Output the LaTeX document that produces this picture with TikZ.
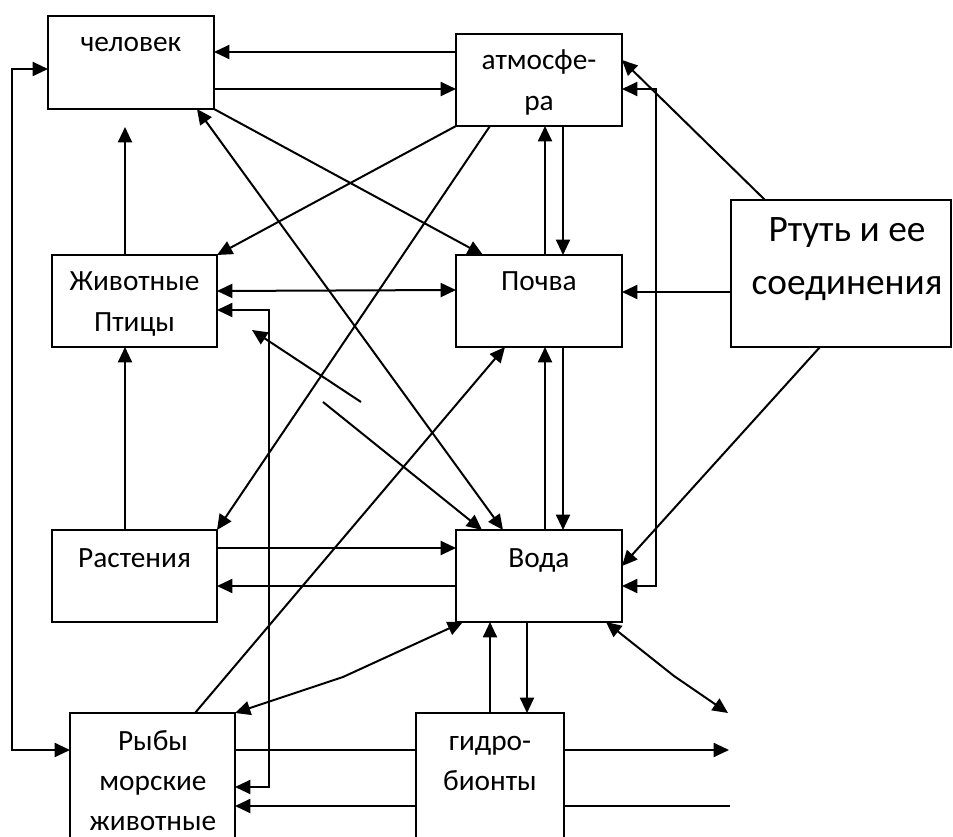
\documentclass[tikz,border=0pt]{standalone}
\usepackage{fontspec}
\setmainfont{Carlito}
\usetikzlibrary{arrows.meta,calc}
\begin{document}
\begin{tikzpicture}[x=0.75pt,y=-0.75pt,
  box/.style={draw,line width=1.15pt,inner sep=0pt,outer sep=0pt,rectangle},
  txt/.style={anchor=base,inner sep=0pt,font=\fontsize{22}{30}\selectfont},
  bigtxt/.style={anchor=base,inner sep=0pt,font=\fontsize{28}{39}\selectfont},
  conn/.style={line width=1.5pt},
  arr/.style={conn,-{Triangle[length=11.5pt,width=10.5pt]}},
  arrb/.style={conn,{Triangle[length=11.5pt,width=10.5pt]}-{Triangle[length=11.5pt,width=10.5pt]}}]
\useasboundingbox (0,0) rectangle (953,837);
\clip (0,0) rectangle (953,837);
\fill[white] (0,0) rectangle (953,837);

% boxes
\node[box,minimum width=124.5pt,minimum height=69.75pt] (chel) at (131,62.5) {};
\node[box,minimum width=124.5pt,minimum height=69pt] (atm) at (539,80) {};
\node[box,minimum width=123.75pt,minimum height=69pt] (zhiv) at (134.5,301) {};
\node[box,minimum width=124.5pt,minimum height=69pt] (poch) at (539,301) {};
\node[box,minimum width=165pt,minimum height=110.25pt] (rtut) at (841,273.5) {};
\node[box,minimum width=123.75pt,minimum height=69pt] (rast) at (134.5,576) {};
\node[box,minimum width=124.5pt,minimum height=69pt] (voda) at (539,576) {};
\node[box,minimum width=123.75pt,minimum height=127.5pt] (ryby) at (152.5,798) {};
\node[box,minimum width=111pt,minimum height=127.5pt] (gidro) at (490,798) {};

% texts
\node[txt] (tchel) at (131,52) {человек};
\node[txt] (tatm1) at (539,70) {атмосфе-};
\node[txt] (tatm2) at (539,111) {ра};
\node[txt] (tzhiv1) at (134.5,291) {Животные};
\node[txt] (tzhiv2) at (134.5,332) {Птицы};
\node[txt] (tpoch) at (539,291) {Почва};
\node[bigtxt] (trtut1) at (847,242) {Ртуть и ее};
\node[bigtxt] (trtut2) at (847,295) {соединения};
\node[txt] (trast) at (134.5,567) {Растения};
\node[txt] (tvoda) at (539,567) {Вода};
\node[txt] (tryby1) at (153,750) {Рыбы};
\node[txt] (tryby2) at (153,790) {морские};
\node[txt] (tryby3) at (153,830) {животные};
\node[txt] (tgidro1) at (490,750) {гидро-};
\node[txt] (tgidro2) at (490,790) {бионты};

% free coordinates
\coordinate (b1) at (361,402);
\coordinate (b2) at (252,330);
\coordinate (b3) at (323,402);
\coordinate (e1) at (728,713);
\coordinate (e2) at (729,750);
\coordinate (e3) at (730,806);

% connectors
\draw[arr] (atm.west |- 0,52) -- (chel.east |- 0,52);
\draw[arr] (chel.east |- 0,89) -- (atm.west |- 0,89);
\draw[arrb] (chel.west |- 0,69) -- (12,69) -- (12,750) -- (ryby.west |- 0,750);
\draw[arr] (zhiv.north -| 125,0) -- ($(chel.south -| 125,0)+(0,18)$);
\draw[arr] (chel.south east) -- (poch.north -| 483,0);
\draw[arrb] (chel.south -| 197,0) -- (voda.north -| 503,0);
\draw[arr] (atm.south west) -- (zhiv.north east);
\draw[arr] (atm.south -| 490,0) -- (rast.north east);
\draw[arr] (poch.north -| 545,0) -- (atm.south -| 545,0);
\draw[arr] (atm.south -| 563,0) -- (poch.north -| 563,0);
\draw[arr] (rtut.north -| 765,0) -- (atm.east |- 0,60);
\draw[arrb] (atm.east |- 0,89) -- (656,89) -- (656,586) -- (voda.east |- 0,586);
\draw[arr] (rtut.west |- 0,292) -- (poch.east |- 0,292);
\draw[arr] (rtut.south -| 820,0) -- (voda.east |- 0,566);
\draw[arrb] (zhiv.east |- 0,291) -- (poch.west |- 0,290);
\draw[arrb] (zhiv.east |- 0,310) -- (269,310) -- (269,787) -- (ryby.east |- 0,787);
\draw[arr] (b1) -- (b2);
\draw[arr] (b3) -- (voda.north -| 482,0);
\draw[arr] (ryby.north -| 195,0) -- (poch.south -| 505,0);
\draw[arr] (voda.north -| 545,0) -- (poch.south -| 545,0);
\draw[arr] (poch.south -| 563,0) -- (voda.north -| 563,0);
\draw[arr] (rast.north -| 125,0) -- (zhiv.south -| 125,0);
\draw[arr] (rast.east |- 0,548) -- (voda.west |- 0,548);
\draw[arr] (voda.west |- 0,586) -- (rast.east |- 0,586);
\draw[arrb] (voda.south -| 463,0) -- (343,677) -- (ryby.north east);
\draw[arr] (gidro.north -| 490,0) -- (voda.south -| 490,0);
\draw[arr] (voda.south -| 527,0) -- (gidro.north -| 527,0);
\draw[arrb] (voda.south -| 606,0) -- (674,676) -- (e1);
\draw[conn] (ryby.east |- 0,750) -- (gidro.west |- 0,750);
\draw[arr] (gidro.east |- 0,750) -- (e2);
\draw[conn] (e3) -- (gidro.east |- 0,806);
\draw[arr] (gidro.west |- 0,806) -- (ryby.east |- 0,806);
\end{tikzpicture}
\end{document}
